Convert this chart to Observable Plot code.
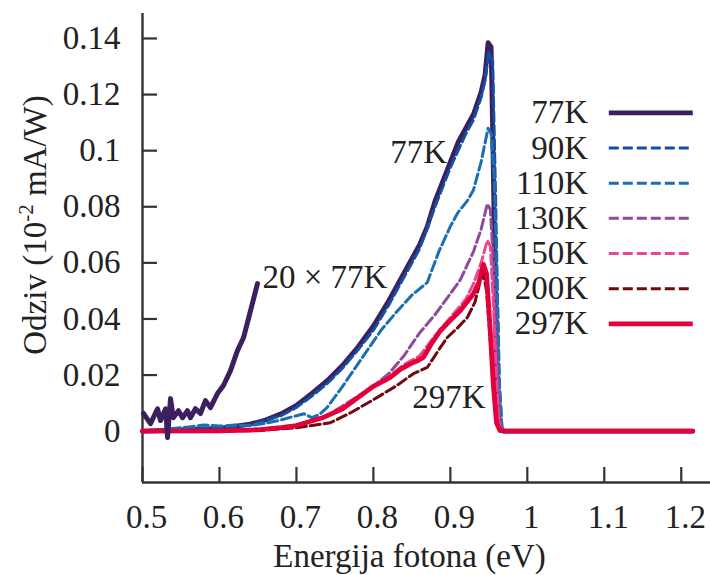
<!DOCTYPE html>
<html><head><meta charset="utf-8">
<script src="https://cdn.jsdelivr.net/npm/d3@7"></script>
<script src="https://cdn.jsdelivr.net/npm/@observablehq/plot@0.6"></script>
<style>
html,body{margin:0;padding:0;background:#fff;}
#chart{width:710px;height:575px;}
</style></head><body><div id="chart"></div>
<script>
// ---- tick values and labels ----
const xTicks = [0.5, 0.6, 0.7, 0.8, 0.9, 1, 1.1, 1.2];
const xTickLabels = ["0.5", "0.6", "0.7", "0.8", "0.9", "1", "1.1", "1.2"];
const yTicks = [0, 0.02, 0.04, 0.06, 0.08, 0.1, 0.12, 0.14];
const yTickLabels = ["0", "0.02", "0.04", "0.06", "0.08", "0.1", "0.12", "0.14"];

// ---- series ----
const seriesNames = ["77K", "90K", "110K", "130K", "150K", "200K", "297K"];
const seriesColors = ["#3b1f5e", "#1450a0", "#1c6db4", "#8e4a9c", "#e8488f", "#6e0a10", "#e4003b"];
const seriesDashed = [false, true, true, true, true, true, false];

const e77  = [0.50, 0.56, 0.60, 0.64, 0.66, 0.68, 0.70, 0.72, 0.74, 0.76, 0.78, 0.80, 0.82, 0.84, 0.86, 0.87, 0.88, 0.89, 0.90, 0.91, 0.92, 0.93, 0.94, 0.945, 0.949, 0.953, 0.956, 0.959, 0.962, 0.966, 0.97, 1.0, 1.1, 1.215];
const r77  = [0, 0.0005, 0.0010, 0.0025, 0.0040, 0.0062, 0.0092, 0.0135, 0.0180, 0.0235, 0.0300, 0.0375, 0.0465, 0.0565, 0.0665, 0.0730, 0.0820, 0.0890, 0.0960, 0.1030, 0.1080, 0.1130, 0.1210, 0.1270, 0.1385, 0.1370, 0.0900, 0.0350, 0.0060, 0.0005, 0, 0, 0, 0];

const e90  = [0.50, 0.56, 0.60, 0.64, 0.68, 0.70, 0.72, 0.74, 0.76, 0.78, 0.80, 0.82, 0.84, 0.86, 0.88, 0.90, 0.92, 0.93, 0.94, 0.945, 0.950, 0.955, 0.959, 0.963, 0.967, 0.97, 1.1, 1.215];
const r90  = [0, 0.0008, 0.0012, 0.0022, 0.0055, 0.0085, 0.0125, 0.0170, 0.0225, 0.0290, 0.0360, 0.0450, 0.0550, 0.0650, 0.0800, 0.0940, 0.1060, 0.1110, 0.1190, 0.1250, 0.1350, 0.1320, 0.0800, 0.0200, 0.0010, 0, 0, 0];

const e110 = [0.50, 0.56, 0.58, 0.60, 0.62, 0.64, 0.66, 0.68, 0.70, 0.71, 0.72, 0.73, 0.74, 0.76, 0.78, 0.80, 0.81, 0.83, 0.85, 0.87, 0.885, 0.90, 0.91, 0.922, 0.93, 0.94, 0.949, 0.953, 0.957, 0.961, 0.964, 0.967, 0.97, 1.1, 1.215];
const r110 = [0, 0.0015, 0.0022, 0.0018, 0.0022, 0.0020, 0.0028, 0.0040, 0.0055, 0.0062, 0.0048, 0.0060, 0.0085, 0.0160, 0.0240, 0.0320, 0.0360, 0.0425, 0.0485, 0.0530, 0.0640, 0.0730, 0.0780, 0.0821, 0.0860, 0.0960, 0.1080, 0.1060, 0.0900, 0.0500, 0.0150, 0.0015, 0, 0, 0];

const e130 = [0.50, 0.60, 0.65, 0.70, 0.74, 0.78, 0.80, 0.82, 0.84, 0.86, 0.88, 0.90, 0.913, 0.93, 0.94, 0.948, 0.952, 0.956, 0.960, 0.964, 0.968, 1.1, 1.215];
const r130 = [0, 0.0002, 0.0006, 0.0021, 0.0055, 0.0125, 0.0160, 0.0205, 0.0270, 0.0350, 0.0415, 0.0490, 0.0540, 0.0640, 0.0720, 0.0810, 0.0790, 0.0600, 0.0300, 0.0050, 0, 0, 0];

const e150 = [0.50, 0.60, 0.65, 0.70, 0.74, 0.78, 0.80, 0.82, 0.84, 0.86, 0.88, 0.90, 0.92, 0.93, 0.94, 0.948, 0.952, 0.956, 0.960, 0.963, 0.966, 1.1, 1.215];
const r150 = [0, 0.0001, 0.0005, 0.0020, 0.0052, 0.0123, 0.0158, 0.0195, 0.0238, 0.0268, 0.0340, 0.0405, 0.0470, 0.0525, 0.0600, 0.0680, 0.0660, 0.0450, 0.0180, 0.0030, 0, 0, 0];

const e200 = [0.50, 0.65, 0.70, 0.744, 0.77, 0.80, 0.83, 0.852, 0.87, 0.885, 0.896, 0.91, 0.922, 0.932, 0.939, 0.943, 0.947, 0.952, 0.956, 0.960, 0.964, 1.1, 1.215];
const r200 = [0, 0.0002, 0.0012, 0.0030, 0.0065, 0.0112, 0.0162, 0.0205, 0.0227, 0.0290, 0.0334, 0.0370, 0.0405, 0.0460, 0.0537, 0.0560, 0.0500, 0.0320, 0.0140, 0.0030, 0, 0, 0];

const e297 = [0.50, 0.60, 0.65, 0.68, 0.70, 0.735, 0.76, 0.787, 0.80, 0.822, 0.835, 0.848, 0.858, 0.865, 0.875, 0.887, 0.90, 0.913, 0.93, 0.937, 0.943, 0.947, 0.952, 0.956, 0.960, 0.964, 0.969, 1.0, 1.1, 1.215];
const r297 = [0, 0.0001, 0.0005, 0.0013, 0.0020, 0.0049, 0.0080, 0.0134, 0.0160, 0.0192, 0.0220, 0.0240, 0.0252, 0.0263, 0.0310, 0.0358, 0.0395, 0.0430, 0.0490, 0.0530, 0.0595, 0.0560, 0.0350, 0.0160, 0.0030, 0.0005, 0, 0, 0, 0];

// 20 x 77K (magnified low-energy part)
const e20x = [0.5013, 0.5104, 0.5195, 0.5234, 0.530, 0.5325, 0.5364, 0.540, 0.5468, 0.552, 0.5584, 0.5623, 0.5688, 0.5753, 0.5818, 0.5883, 0.5974, 0.6052, 0.6143, 0.6234, 0.6312, 0.6403, 0.6494];
const r20x = [0.0063, 0.0027, 0.0080, 0.0038, 0.0080, -0.0023, 0.0116, 0.0048, 0.0073, 0.0048, 0.0073, 0.0048, 0.0080, 0.0063, 0.0109, 0.0084, 0.0134, 0.0163, 0.0216, 0.0287, 0.0333, 0.0429, 0.0526];

// annotations
const annoText = ["77K", "297K", "20 × 77K"];
const annoE    = [0.822, 0.8506, 0.6558];
const annoR    = [0.0993, 0.0120, 0.0547];

const xLabel = "Energija fotona (eV)";

// ---- build ----
const seriesE = [e77, e90, e110, e130, e150, e200, e297];
const seriesR = [r77, r90, r110, r130, r150, r200, r297];
const toRows = (es, rs) => es.map((e, i) => ({E: e, R: rs[i]}));

const xDomain = [0.5, 1.238];
const yDomain = [-0.0183, 0.1489];
const FONT = "Liberation Serif";
const axisColor = "#333";
const textColor = "#222";
const dash = "10,4";

const lineMarks = seriesNames.map((name, i) =>
  Plot.line(toRows(seriesE[i], seriesR[i]), {
    x: "E", y: "R",
    stroke: seriesColors[i],
    strokeWidth: seriesDashed[i] ? 3 : 4.8,
    strokeDasharray: seriesDashed[i] ? dash : null,
    strokeLinejoin: "round"
  })
);
lineMarks.push(Plot.line(toRows(e20x, r20x), {x: "E", y: "R", stroke: seriesColors[0], strokeWidth: 5, strokeLinejoin: "round"}));

// legend placed inside plot (data units derived from layout constants)
const legTop = 0.1135, legStep = 0.01254;
const legTextX = 1.079, legLineX1 = 1.1065, legLineX2Solid = 1.2156, legLineX2Dash = 1.2104;
const legendRows = seriesNames.map((name, i) => ({name, y: legTop - i * legStep}));
const legendMarks = [
  Plot.text(legendRows, {x: () => legTextX, y: "y", text: "name", textAnchor: "end", fill: textColor, fontSize: 33, fontFamily: FONT})
];
seriesNames.forEach((name, i) => {
  legendMarks.push(Plot.ruleY([legendRows[i]], {
    y: "y", x1: () => legLineX1, x2: () => (seriesDashed[i] ? legLineX2Dash : legLineX2Solid),
    stroke: seriesColors[i], strokeWidth: seriesDashed[i] ? 3 : 4.8,
    strokeDasharray: seriesDashed[i] ? dash : null
  }));
});

const annoRows = annoText.map((t, i) => ({t, E: annoE[i], R: annoR[i]}));

const chart = Plot.plot({
  width: 710, height: 575,
  marginLeft: 142, marginRight: 0, marginTop: 13, marginBottom: 93,
  x: {domain: xDomain},
  y: {domain: yDomain},
  style: {fontFamily: FONT, fontSize: "33px", color: textColor, background: "white"},
  marks: [
    Plot.axisX({ticks: xTicks, tickFormat: d => xTickLabels[xTicks.indexOf(d)], tickSize: 0, tickPadding: 22, dx: 4, label: null, fontSize: 33, fill: textColor}),
    Plot.axisX({ticks: xTicks, tickSize: -15, text: null, label: null, stroke: axisColor, strokeWidth: 2.2}),
    Plot.axisY({ticks: yTicks, tickFormat: d => yTickLabels[yTicks.indexOf(d)], tickSize: 0, tickPadding: 22, label: null, fontSize: 33, fill: textColor}),
    Plot.axisY({ticks: yTicks, tickSize: -15, text: null, label: null, stroke: axisColor, strokeWidth: 2.2}),
    Plot.ruleX([xDomain[0]], {stroke: axisColor, strokeWidth: 2.4}),
    Plot.ruleY([yDomain[0]], {stroke: axisColor, strokeWidth: 2.4}),
    ...lineMarks,
    ...legendMarks,
    Plot.text(annoRows, {x: "E", y: "R", text: "t", textAnchor: "start", fill: textColor, fontSize: 33, fontFamily: FONT}),
    Plot.text([xLabel], {frameAnchor: "bottom", text: d => d, dy: 74, dx: -17, fill: textColor, fontSize: 33, fontFamily: FONT, lineAnchor: "middle"})
  ]
});

// y-axis label with superscript
const svg = d3.select(chart);
const yl = svg.append("text")
  .attr("transform", "translate(46,225) rotate(-90)")
  .attr("text-anchor", "middle")
  .attr("fill", textColor)
  .style("font-family", FONT)
  .style("font-size", "33px");
yl.append("tspan").text("Odziv (10");
yl.append("tspan").attr("dy", -13).style("font-size", "21px").text("-2");
yl.append("tspan").attr("dy", 13).text(" mA/W)");

document.getElementById("chart").appendChild(chart);
</script>
</body></html>
